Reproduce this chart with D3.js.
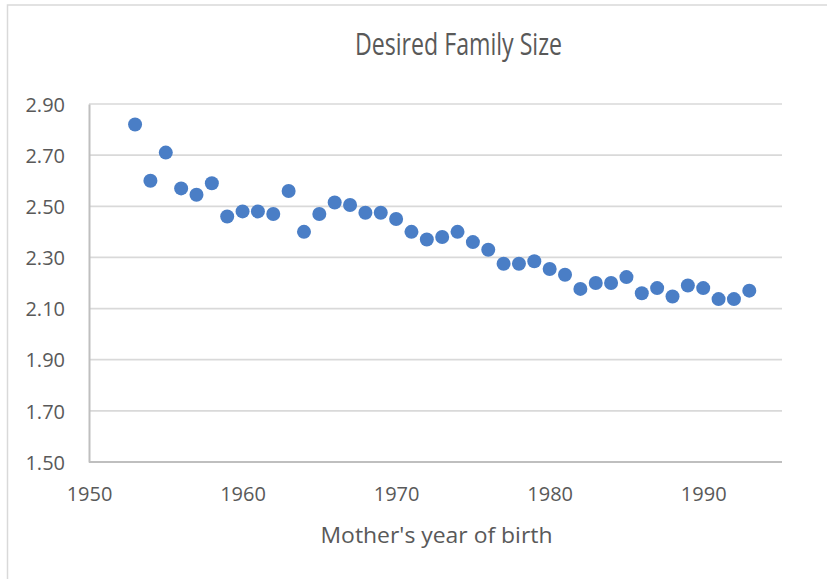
<!DOCTYPE html>
<meta charset="utf-8">
<style>
body { margin: 0; background: #fff; }
text { font-family: "Open Sans", sans-serif; fill: #595959; }
.grid line { stroke: #d9d9d9; stroke-width: 1.7px; }
.frame { fill: none; stroke: #d9d9d9; stroke-width: 1.5px; }
</style>
<body>
<script src="https://d3js.org/d3.v7.min.js"></script>
<script>
// mother's year of birth
let years = [1953,1954,1955,1956,1957,1958,1959,1960,1961,1962,1963,1964,1965,1966,1967,1968,1969,1970,1971,1972,1973,
             1974,1975,1976,1977,1978,1979,1980,1981,1982,1983,1984,1985,1986,1987,1988,1989,1990,1991,1992,1993]
// desired family size
let sizes = [2.82,2.60,2.71,2.57,2.545,2.59,2.46,2.48,2.48,2.47,2.56,2.40,2.47,2.515,2.505,2.475,2.475,2.45,2.40,2.37,2.38,
             2.40,2.36,2.33,2.275,2.275,2.285,2.255,2.232,2.177,2.20,2.20,2.223,2.16,2.18,2.147,2.19,2.18,2.137,2.137,2.17]
let xTicks = [1950,1960,1970,1980,1990]
let yTicks = [1.5,1.7,1.9,2.1,2.3,2.5,2.7,2.9]
let title = "Desired Family Size"
let xTitle = "Mother's year of birth"

var width = 827,
    height = 579;

var svg = d3.select("body").append("svg")
    .attr("width", width)
    .attr("height", height);

// chart area border (runs off the right/bottom of the picture)
svg.append("rect")
    .attr("class", "frame")
    .attr("x", 7.5).attr("y", 5)
    .attr("width", 900).attr("height", 600);

var x = d3.scaleLinear().domain([1950, 1995]).range([89, 780]);
var y = d3.scaleLinear().domain([1.5, 2.9]).range([462, 104]);

// horizontal gridlines
svg.append("g")
    .attr("class", "grid")
  .selectAll("line")
    .data(yTicks.slice(1))
  .enter().append("line")
    .attr("x1", x.range()[0]).attr("x2", x.range()[1] + 2)
    .attr("y1", d => y(d)).attr("y2", d => y(d));

// axes, drawn with d3.axis and restyled Excel-like
var yAxis = svg.append("g")
    .attr("transform", `translate(${x.range()[0]},0)`)
    .call(d3.axisLeft(y).tickValues(yTicks).tickFormat(d3.format(".2f")).tickSize(0).tickPadding(24));
var xAxis = svg.append("g")
    .attr("transform", `translate(0,${y.range()[0]})`)
    .call(d3.axisBottom(x).tickValues(xTicks).tickFormat(d3.format("d")).tickSize(0).tickPadding(25));

[yAxis, xAxis].forEach(a => {
  a.select(".domain").attr("stroke", "#bfbfbf").attr("stroke-width", 2);
  a.selectAll("text").attr("font-family", "Open Sans").attr("font-size", 20).attr("fill", "#595959");
});
xAxis.select(".domain").attr("d", `M${x.range()[0]},0H${x.range()[1] + 2}`);
yAxis.selectAll("text").attr("dy", "0.36em");
xAxis.selectAll("text").attr("dy", "0.71em");

// points
svg.append("g")
  .selectAll("circle")
    .data(years)
  .enter().append("circle")
    .attr("cx", d => x(d))
    .attr("cy", (d, i) => y(sizes[i]))
    .attr("r", 7)
    .attr("fill", "#4a7ec6");

// titles
svg.append("text")
    .attr("x", 458.5).attr("y", 55)
    .attr("text-anchor", "middle")
    .attr("font-size", 31)
    .attr("textLength", 207)
    .attr("lengthAdjust", "spacingAndGlyphs")
    .text(title);

svg.append("text")
    .attr("x", 436.5).attr("y", 543)
    .attr("text-anchor", "middle")
    .attr("font-size", 22)
    .attr("textLength", 232)
    .attr("lengthAdjust", "spacingAndGlyphs")
    .text(xTitle);
</script>
